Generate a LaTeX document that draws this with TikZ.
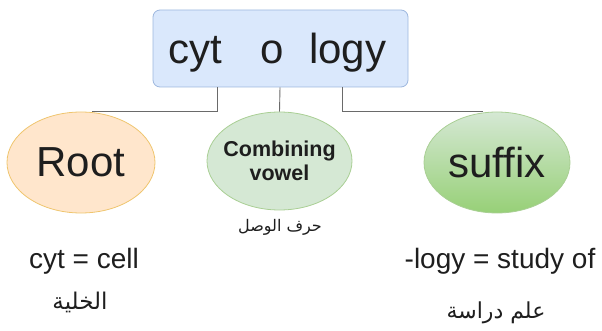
\documentclass[tikz,border=0pt]{standalone}
\usepackage{fontspec}
\setmainfont{Liberation Sans}
\newfontfamily\arabicfont[Script=Arabic]{DejaVu Sans}
\TeXXeTstate=1
\usetikzlibrary{shapes.geometric}
\definecolor{topfill}{HTML}{DAE8FC}
\definecolor{topdraw}{HTML}{9DB7DE}
\definecolor{rootfill}{HTML}{FFE6CC}
\definecolor{rootdraw}{HTML}{EFC56E}
\definecolor{greenfill}{HTML}{D5E8D4}
\definecolor{greendraw}{HTML}{A9CF94}
\definecolor{greendark}{HTML}{97D077}
\definecolor{txt}{HTML}{1E1E1E}
\definecolor{linec}{HTML}{6A6A6A}
\tikzset{
  bigtxt/.style={inner sep=0pt, anchor=base west, text=txt, font=\fontsize{42}{50}\selectfont},
  ell/.style={ellipse, inner sep=0pt, line width=0.8pt, text=txt},
  lbl/.style={inner sep=0pt, text=txt, font=\fontsize{28}{32}\selectfont},
  arlbl/.style={inner sep=0pt, text=txt},
  conn/.style={draw=linec, line width=0.9pt},
}
\begin{document}
\begin{tikzpicture}[x=1pt,y=-1pt]
\useasboundingbox (0,0) rectangle (602,331);
% top box
\node[draw=topdraw, fill=topfill, rounded corners=7pt, line width=0.8pt,
      minimum width=255pt, minimum height=77pt, inner sep=0pt] (top) at (280.5,48.5) {};
\node[bigtxt] (t1) at (168,64) {cyt};
\node[bigtxt] (t2) at (260,64) {o};
\node[bigtxt] (t3) at (309,64) {logy};
% ellipses
\node[ell, draw=rootdraw, fill=rootfill, minimum width=148pt, minimum height=101pt,
      font=\fontsize{42}{50}\selectfont] (root) at (81,162.5) {Root};
\node[ell, draw=greendraw, fill=greenfill, minimum width=145pt, minimum height=98pt] (comb) at (279.5,161) {};
\node[inner sep=0pt, text=txt, align=center, font=\bfseries\fontsize{21.5}{24}\selectfont] (combtxt) at (comb.center) {Combining\\vowel};
\node[ell, draw=greendraw, top color=greenfill, bottom color=greendark, minimum width=146pt, minimum height=101pt,
      font=\fontsize{42}{50}\selectfont] (suf) at (497,162.5) {suffix};
% connectors
\draw[conn] ([xshift=-63.5pt]top.south) |- ([xshift=11pt]root.north);
\draw[conn] ([xshift=-0.5pt]top.south) -- (comb.north);
\draw[conn] ([xshift=61.5pt]top.south) |- ([xshift=-14pt]suf.north);
% labels
\node[arlbl, font=\arabicfont\fontsize{16}{18}\selectfont] (ar1) at (280,227) {\beginR حرف الوصل\endR};
\node[lbl] (l1) at (84,261) {cyt = cell};
\node[arlbl, font=\arabicfont\fontsize{23}{26}\selectfont] (ar2) at (80,302) {\beginR الخلية\endR};
\node[lbl] (l2) at (500,261) {-logy = study of};
\node[arlbl, font=\arabicfont\fontsize{22}{26}\selectfont] (ar3) at (496,313) {\beginR علم دراسة\endR};
\end{tikzpicture}
\end{document}
